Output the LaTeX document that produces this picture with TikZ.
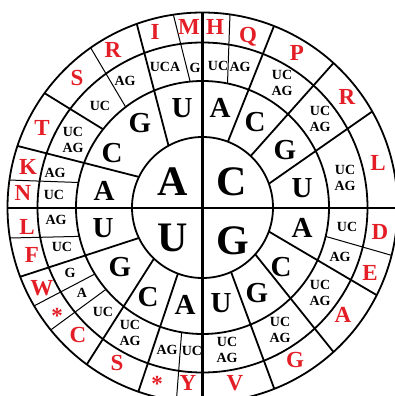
\documentclass[tikz,border=0pt]{standalone}
\usepackage{fontspec}
\setmainfont{Liberation Serif}
\definecolor{aared}{RGB}{228,30,38}
\begin{document}
\begin{tikzpicture}[x=1pt,y=1pt,
  ring/.style={line width=1.8pt},
  cross/.style={line width=2.7pt},
  sub/.style={line width=1pt},
  big/.style={font=\bfseries\fontsize{42}{42}\selectfont, inner sep=0pt},
  mid/.style={font=\bfseries\fontsize{29}{29}\selectfont, inner sep=0pt},
  cod/.style={font=\bfseries\fontsize{14}{16.5}\selectfont, align=center, inner sep=0pt},
  aa/.style={font=\bfseries\fontsize{23}{23}\selectfont, text=aared, inner sep=0pt}]
\useasboundingbox (0,0) rectangle (395,-396);
\clip (0,0) rectangle (395,-396);
\begin{scope}[shift={(202.5,-207.5)}]
  \draw[ring] (0,0) circle (70.5) (0,0) circle (126.5) (0,0) circle (165) (0,0) circle (195);
  \draw[cross] (-195,-0.5) -- (195,-0.5);
  \draw[cross] (0,195) -- (0,-195);
  % quadrant A (top-left)
  \draw[ring] (154.3:70.5) -- (161.6:195);
  \draw[ring] (141.8:126.5) -- (144.1:195);
  \draw[ring] (118.8:70.5) -- (109.7:195);
  \draw[sub] (168.6:126.5) -- (171.9:195);
  \draw[sub] (127.4:126.5) -- (125:195);
  \draw[sub] (95.6:126.5) -- (98.6:195);
  % quadrant C (top-right)
  \draw[ring] (68.9:70.5) -- (68.5:195);
  \draw[ring] (46.9:70.5) -- (47.8:195);
  \draw[ring] (19.7:70.5) -- (29.5:195);
  \draw[sub] (78.6:126.5) -- (81.9:195);
  % quadrant G (bottom-right)
  \draw[ring] (-19.9:70.5) -- (-26.7:195);
  \draw[ring] (-41.6:70.5) -- (-47.8:195);
  \draw[ring] (-66.1:70.5) -- (-68.4:195);
  \draw[sub] (-13.2:126.5) -- (-14.2:195);
  % quadrant U (bottom-left)
  \draw[ring] (249.6:70.5) -- (250.8:195);
  \draw[ring] (226.5:70.5) -- (233.6:195);
  \draw[ring] (205.6:70.5) -- (200.8:195);
  \draw[sub] (260.5:126.5) -- (262.3:195);
  \draw[sub] (220.3:126.5) -- (218.9:195);
  \draw[sub] (211.7:126.5) -- (210.3:195);
  \draw[sub] (193.2:126.5) -- (189:195);
\end{scope}
\begin{scope}[y=-1pt]
  % first base
  \node[big] (fA) at (173,181.5) {A};
  \node[big] (fC) at (232,181.5) {C};
  \node[big] (fU) at (173,238) {U};
  \node[big] (fG) at (233,241) {G};
  % second base
  \node[mid] (aA) at (104,191) {A};
  \node[mid] (aC) at (112,153) {C};
  \node[mid] (aG) at (140,123) {G};
  \node[mid] (aU) at (182,108) {U};
  \node[mid] (cA) at (220,108) {A};
  \node[mid] (cC) at (255,122) {C};
  \node[mid] (cG) at (285,150) {G};
  \node[mid] (cU) at (302,188) {U};
  \node[mid] (gA) at (302,228) {A};
  \node[mid] (gC) at (281,267) {C};
  \node[mid] (gG) at (257,293) {G};
  \node[mid] (gU) at (221,303) {U};
  \node[mid] (uU) at (103,228) {U};
  \node[mid] (uG) at (120,267) {G};
  \node[mid] (uC) at (148,297) {C};
  \node[mid] (uA) at (185,305) {A};
  % third base
  \node[cod] (tN) at (54,195) {UC};
  \node[cod] (tK) at (55,173) {AG};
  \node[cod] (tT) at (73,140) {UC\\AG};
  \node[cod] (tS) at (100,106) {UC};
  \node[cod] (tR) at (125,81) {AG};
  \node[cod] (tI) at (165,67) {UCA};
  \node[cod] (tM) at (195,68) {G};
  \node[cod] (tH) at (218,66) {UC};
  \node[cod] (tQ) at (240,67) {AG};
  \node[cod] (tP) at (282,83) {UC\\AG};
  \node[cod] (tR2) at (320,119) {UC\\AG};
  \node[cod] (tL) at (345,178) {UC\\AG};
  \node[cod] (tD) at (347,227) {UC};
  \node[cod] (tE) at (340,257) {AG};
  \node[cod] (tA) at (320,293) {UC\\AG};
  \node[cod] (tG) at (280,330) {UC\\AG};
  \node[cod] (tV) at (227,350) {UC\\AG};
  \node[cod] (tY) at (192,351) {UC};
  \node[cod] (tX) at (167,350) {AG};
  \node[cod] (tS2) at (130,333) {UC\\AG};
  \node[cod] (tC) at (103,312) {UC};
  \node[cod] (tX2) at (82,293) {A};
  \node[cod] (tW) at (70,273) {G};
  \node[cod] (tF) at (62,247) {UC};
  \node[cod] (tL2) at (56,220) {AG};
  % amino acids
  \node[aa] (N) at (23,193) {N};
  \node[aa] (K) at (28,167) {K};
  \node[aa] (T) at (42,128) {T};
  \node[aa] (S) at (77,78) {S};
  \node[aa] (R) at (113,50) {R};
  \node[aa] (I) at (155,32) {I};
  \node[aa] (M) at (189,27) {M};
  \node[aa] (H) at (215,27) {H};
  \node[aa] (Q) at (248,37) {Q};
  \node[aa] (P) at (297,53) {P};
  \node[aa] (R2) at (347,97) {R};
  \node[aa] (L) at (378,163) {L};
  \node[aa] (D) at (380,232) {D};
  \node[aa] (E) at (370,273) {E};
  \node[aa] (A) at (343,315) {A};
  \node[aa] (G) at (295,360) {G};
  \node[aa] (V) at (235,383) {V};
  \node[aa] (Y) at (188,383) {Y};
  \node[aa] (X) at (157,384) {*};
  \node[aa] (S2) at (117,363) {S};
  \node[aa] (C) at (78,335) {C};
  \node[aa] (X2) at (57,316) {*};
  \node[aa] (W) at (42,288) {W};
  \node[aa] (F) at (32,255) {F};
  \node[aa] (L2) at (27,227) {L};
\end{scope}
\end{tikzpicture}
\end{document}
